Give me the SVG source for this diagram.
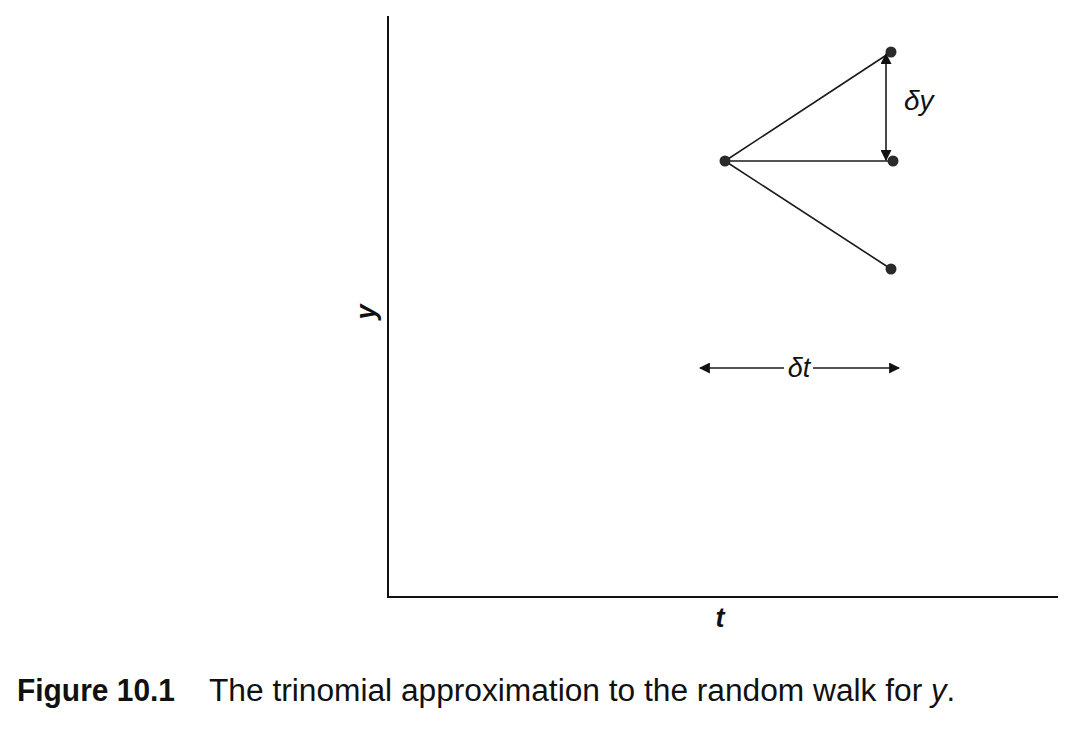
<svg xmlns="http://www.w3.org/2000/svg" width="1080" height="736" viewBox="0 0 1080 736">
<style>
.ln{stroke:#1a1a1a;stroke-width:1.6;fill:none}
.ax{stroke:#111;stroke-width:2;fill:none}
.dot{fill:#2a2a2a}
.lbl{font-family:"Liberation Sans",Arial,sans-serif;font-style:italic;fill:#111}
.cap{font-family:"Liberation Sans",Arial,sans-serif;font-size:31px;fill:#111}
</style>
<defs>
<marker id="ah" viewBox="0 0 10 10" refX="9" refY="5" markerWidth="11" markerHeight="11" markerUnits="userSpaceOnUse" orient="auto-start-reverse">
<path d="M0,0 L10,5 L0,10 z" fill="#111"/>
</marker>
</defs>
<g id="axes">
<line class="ax" x1="388" y1="16" x2="388" y2="597"/>
<line class="ax" x1="387" y1="597" x2="1058" y2="597"/>
<text class="lbl" font-weight="bold" font-size="27" transform="translate(375,312) rotate(-90)" text-anchor="middle">y</text>
<text class="lbl" font-weight="bold" font-size="27" x="720" y="627" text-anchor="middle">t</text>
</g>
<g id="connectors">
<line class="ln" x1="725" y1="161" x2="891" y2="52"/>
<line class="ln" x1="725" y1="161" x2="893" y2="161"/>
<line class="ln" x1="725" y1="161" x2="891" y2="269"/>
<line class="ln" x1="886" y1="54" x2="886" y2="160" marker-start="url(#ah)" marker-end="url(#ah)"/>
<line class="ln" x1="700" y1="368" x2="784" y2="368" marker-start="url(#ah)"/>
<line class="ln" x1="813" y1="368" x2="899" y2="368" marker-end="url(#ah)"/>
</g>
<g id="n-start"><circle class="dot" cx="725" cy="161" r="5.5"/></g>
<g id="n-up"><circle class="dot" cx="891" cy="52" r="5.5"/></g>
<g id="n-mid"><circle class="dot" cx="893" cy="161" r="5.5"/></g>
<g id="n-down"><circle class="dot" cx="891" cy="269" r="5.5"/></g>
<g id="labels">
<text class="lbl" font-size="28" x="904" y="110">δy</text>
<text class="lbl" font-size="27" x="799" y="377" text-anchor="middle">δt</text>
</g>
<g id="caption">
<text class="cap" x="17" y="701"><tspan font-weight="bold" textLength="158" lengthAdjust="spacingAndGlyphs">Figure 10.1</tspan><tspan x="209" textLength="722" lengthAdjust="spacingAndGlyphs">The trinomial approximation to the random walk for </tspan><tspan font-style="italic">y</tspan><tspan>.</tspan></text>
</g>
</svg>
